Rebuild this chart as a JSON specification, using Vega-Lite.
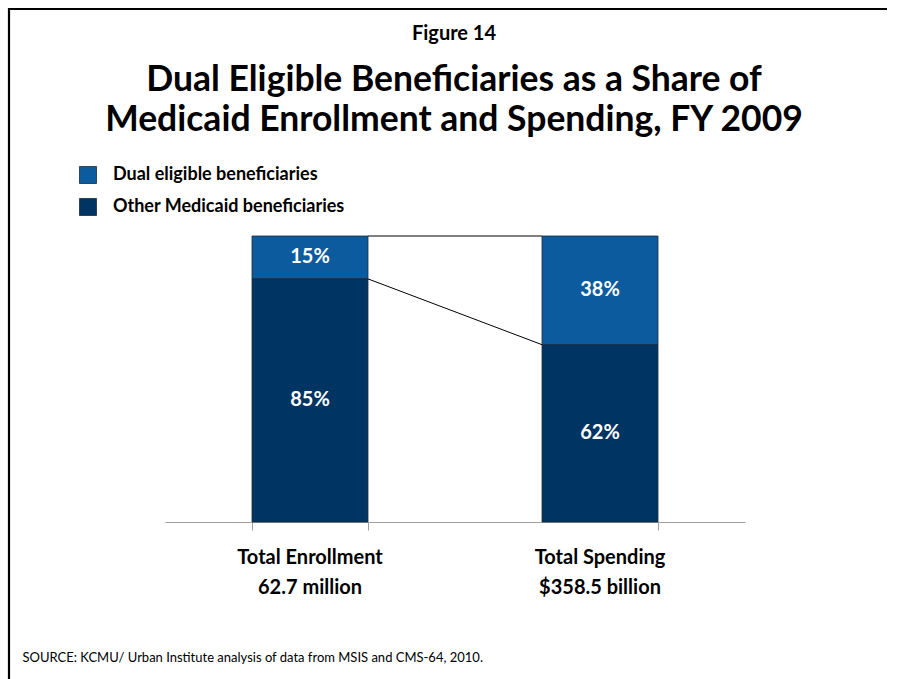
{
  "$schema": "https://vega.github.io/schema/vega-lite/v6.json",
  "width": 1000,
  "height": 685,
  "autosize": {"type": "none"},
  "padding": {"left": 9, "top": 9, "right": -112, "bottom": -15},
  "background": "white",
  "config": {
    "font": "Lato",
    "view": {"stroke": "#000000", "strokeWidth": 2.2, "strokeDash": [878, 704, 3000, 0]}
  },
  "title": {
    "text": "Figure 14",
    "subtitle": ["Dual Eligible Beneficiaries as a Share of", "Medicaid Enrollment and Spending, FY 2009"],
    "anchor": "start",
    "frame": "group",
    "dx": 445,
    "offset": -129,
    "align": "center",
    "font": "Lato",
    "fontSize": 20,
    "fontWeight": "bold",
    "color": "#000000",
    "subtitleFont": "Lato",
    "subtitleFontSize": 35.5,
    "subtitleFontWeight": "bold",
    "subtitleColor": "#000000",
    "subtitlePadding": 19,
    "subtitleLineHeight": 40
  },
  "datasets": {
    "bars": [
      {"cat": "Total Enrollment|62.7 million", "series": "Dual eligible beneficiaries", "pct": 15, "label": "15%"},
      {"cat": "Total Enrollment|62.7 million", "series": "Other Medicaid beneficiaries", "pct": 85, "label": "85%"},
      {"cat": "Total Spending|$358.5 billion", "series": "Dual eligible beneficiaries", "pct": 38, "label": "38%"},
      {"cat": "Total Spending|$358.5 billion", "series": "Other Medicaid beneficiaries", "pct": 62, "label": "62%"}
    ],
    "links": [
      {"from": "Total Enrollment|62.7 million", "to": "Total Spending|$358.5 billion", "y1": 100, "y2": 100},
      {"from": "Total Enrollment|62.7 million", "to": "Total Spending|$358.5 billion", "y1": 85, "y2": 62}
    ]
  },
  "layer": [
    {
      "data": {"name": "bars"},
      "mark": {"type": "bar", "stroke": "#1c2b3a", "strokeWidth": 0.8},
      "encoding": {
        "x": {
          "field": "cat",
          "type": "nominal",
          "sort": null,
          "scale": {"domain": ["Total Enrollment|62.7 million", "Total Spending|$358.5 billion"], "range": [156, 736], "paddingInner": 0.6, "paddingOuter": 0.3},
          "axis": {
            "title": null,
            "orient": "bottom",
            "offset": -172,
            "domainColor": "#a0a0a0",
            "domainWidth": 1,
            "tickColor": "#a0a0a0",
            "tickSize": 8,
            "bandPosition": 1,
            "tickExtra": true,
            "labelAngle": 0,
            "labelExpr": "split(datum.label, '|')",
            "labelFont": "Lato",
            "labelFontSize": 20,
            "labelFontWeight": "bold",
            "labelColor": "#000000",
            "labelLineHeight": 30,
            "labelPadding": 17,
            "labelBaseline": "top"
          }
        },
        "y": {
          "field": "pct",
          "type": "quantitative",
          "stack": "zero",
          "scale": {"domain": [0, 100], "range": [513, 227], "nice": false},
          "axis": {
            "title": "SOURCE: KCMU/ Urban Institute analysis of data from MSIS and CMS-64, 2010.",
            "domain": false,
            "ticks": false,
            "labels": false,
            "grid": false,
            "titleAngle": 0,
            "titleAlign": "left",
            "titleBaseline": "alphabetic",
            "titleX": 13,
            "titleY": 652,
            "titleFont": "Lato",
            "titleFontSize": 13,
            "titleFontWeight": "normal",
            "titleColor": "#000000"
          }
        },
        "color": {
          "field": "series",
          "type": "nominal",
          "scale": {"domain": ["Dual eligible beneficiaries", "Other Medicaid beneficiaries"], "range": ["#0b5b9e", "#003463"]},
          "legend": {
            "title": null,
            "orient": "none",
            "legendX": 70,
            "legendY": 157,
            "direction": "vertical",
            "symbolType": "square",
            "symbolSize": 290,
            "symbolStrokeColor": "#1c2b3a",
            "symbolStrokeWidth": 0.8,
            "labelFont": "Lato",
            "labelFontSize": 18,
            "labelFontWeight": "bold",
            "labelColor": "#000000",
            "labelLimit": 0,
            "labelOffset": 16,
            "rowPadding": 10,
            "padding": 0
          }
        },
        "order": {"field": "series", "sort": "descending"}
      }
    },
    {
      "data": {"name": "bars"},
      "mark": {"type": "text", "color": "#ffffff", "font": "Lato", "fontSize": 20, "fontWeight": "bold", "baseline": "middle"},
      "encoding": {
        "x": {"field": "cat", "type": "nominal", "sort": null},
        "y": {"field": "pct", "type": "quantitative", "stack": "zero", "bandPosition": 0.5},
        "detail": {"field": "series"},
        "order": {"field": "series", "sort": "descending"},
        "text": {"field": "label"}
      }
    },
    {
      "data": {"name": "links"},
      "mark": {"type": "rule", "color": "#000000", "strokeWidth": 1},
      "encoding": {
        "x": {"field": "from", "type": "nominal", "bandPosition": 1},
        "x2": {"field": "to", "bandPosition": 0},
        "y": {"field": "y1", "type": "quantitative"},
        "y2": {"field": "y2"}
      }
    }
  ]
}
